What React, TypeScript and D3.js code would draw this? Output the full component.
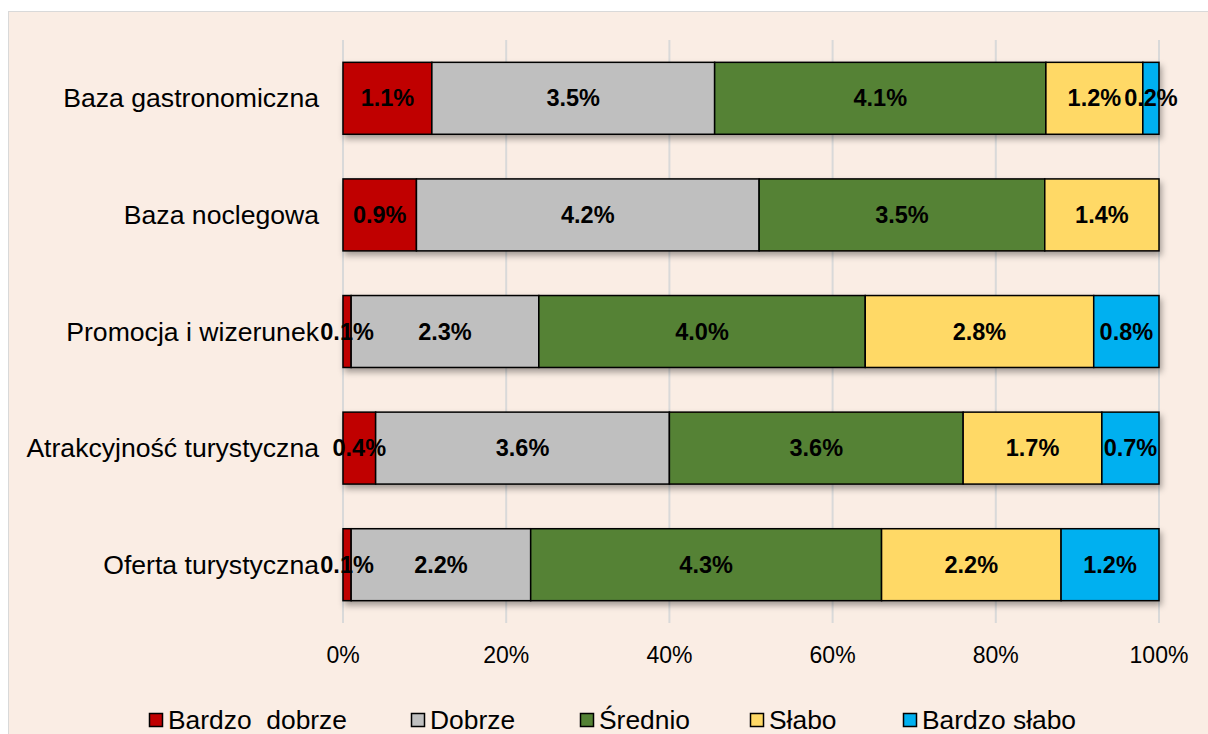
import React from "react";
import * as d3 from "d3";

// -- DATA --
const categories = [
  "Baza gastronomiczna",
  "Baza noclegowa",
  "Promocja i wizerunek",
  "Atrakcyjność turystyczna",
  "Oferta turystyczna",
];
const seriesNames = ["Bardzo  dobrze", "Dobrze", "Średnio", "Słabo", "Bardzo słabo"];
const bardzoDobrze = [1.1, 0.9, 0.1, 0.4, 0.1];
const dobrze = [3.5, 4.2, 2.3, 3.6, 2.2];
const srednio = [4.1, 3.5, 4.0, 3.6, 4.3];
const slabo = [1.2, 1.4, 2.8, 1.7, 2.2];
const bardzoSlabo = [0.2, 0, 0.8, 0.7, 1.2];
const xTicks = [0, 0.2, 0.4, 0.6, 0.8, 1];

const colors = ["#C00000", "#BFBFBF", "#548235", "#FFD966", "#00B0F0"];
const legendX = [149, 411, 580, 750, 903];

const App = () => {
  const svgRef = React.useRef<SVGSVGElement | null>(null);
  const W = 1208;
  const H = 734;

  React.useEffect(() => {
    const svg = d3.select(svgRef.current);
    svg.selectAll("*").remove();

    const font = "'Liberation Sans', Arial, sans-serif";
    const allSeries = [bardzoDobrze, dobrze, srednio, slabo, bardzoSlabo];
    const rows = categories.map((c, i) => {
      const r: any = { cat: c };
      seriesNames.forEach((s, j) => (r[s] = allSeries[j][i]));
      return r;
    });
    const stacked = d3
      .stack()
      .keys(seriesNames)
      .offset(d3.stackOffsetExpand)(rows);

    // drop shadow for the bars
    const defs = svg.append("defs");
    defs
      .append("filter")
      .attr("id", "shadow")
      .attr("x", "-5%")
      .attr("y", "-20%")
      .attr("width", "120%")
      .attr("height", "160%")
      .append("feDropShadow")
      .attr("dx", 2)
      .attr("dy", 4)
      .attr("stdDeviation", 3)
      .attr("flood-color", "#000")
      .attr("flood-opacity", 0.35);

    // background + frame
    svg.append("rect").attr("width", W).attr("height", H).attr("fill", "#fff");
    svg
      .append("rect")
      .attr("x", 8.5)
      .attr("y", 11.5)
      .attr("width", W)
      .attr("height", H)
      .attr("fill", "#FAEDE4")
      .attr("stroke", "#D9D9D9")
      .attr("stroke-width", 1);

    // Scales
    const x = d3.scaleLinear().domain([0, 1]).range([343, 1159]);
    const y = d3
      .scaleBand()
      .domain(categories)
      .range([40, 623])
      .paddingInner(0.383)
      .paddingOuter(0.1915);

    // grid
    svg
      .append("g")
      .selectAll("line")
      .data(xTicks)
      .enter()
      .append("line")
      .attr("x1", (d) => x(d))
      .attr("x2", (d) => x(d))
      .attr("y1", 40)
      .attr("y2", 623)
      .attr("stroke", "#D9D9D9")
      .attr("stroke-width", 2);

    // tick labels
    svg
      .append("g")
      .selectAll("text")
      .data(xTicks)
      .enter()
      .append("text")
      .attr("x", (d) => x(d))
      .attr("y", 663)
      .attr("text-anchor", "middle")
      .style("font-family", font)
      .style("font-size", "23px")
      .attr("fill", "#000")
      .text((d) => d3.format(".0%")(d));

    // bars
    const barG = svg.append("g").attr("filter", "url(#shadow)");
    stacked.forEach((layer, j) => {
      barG
        .selectAll(`rect.s${j}`)
        .data(layer.filter((d) => d[1] - d[0] > 0))
        .enter()
        .append("rect")
        .attr("class", `s${j}`)
        .attr("x", (d) => x(d[0]))
        .attr("y", (d) => y((d.data as any).cat)!)
        .attr("width", (d) => x(d[1]) - x(d[0]))
        .attr("height", y.bandwidth())
        .attr("fill", colors[j])
        .attr("stroke", "#000")
        .attr("stroke-width", 1.5);
    });

    // data labels
    stacked.forEach((layer, j) => {
      svg
        .append("g")
        .selectAll("text")
        .data(layer.filter((d) => d[1] - d[0] > 0))
        .enter()
        .append("text")
        .attr("x", (d) => (x(d[0]) + x(d[1])) / 2)
        .attr("y", (d) => y((d.data as any).cat)! + y.bandwidth() / 2 + 8)
        .attr("text-anchor", "middle")
        .style("font-family", font)
        .style("font-size", "23.5px")
        .style("font-weight", "bold")
        .attr("fill", "#000")
        .text((d) => (d.data as any)[layer.key].toFixed(1) + "%");
    });

    // category labels
    svg
      .append("g")
      .selectAll("text")
      .data(categories)
      .enter()
      .append("text")
      .attr("x", 319)
      .attr("y", (d) => y(d)! + y.bandwidth() / 2 + 9)
      .attr("text-anchor", "end")
      .style("font-family", font)
      .style("font-size", "26.6px")
      .attr("fill", "#000")
      .text((d) => d);

    // legend
    const leg = svg
      .append("g")
      .selectAll("g")
      .data(seriesNames)
      .enter()
      .append("g")
      .attr("transform", (d, i) => `translate(${legendX[i]}, 0)`);
    leg
      .append("rect")
      .attr("x", 0.5)
      .attr("y", 713.5)
      .attr("width", 13)
      .attr("height", 13)
      .attr("fill", (d, i) => colors[i])
      .attr("stroke", "#000")
      .attr("stroke-width", 1.5);
    leg
      .append("text")
      .attr("x", 19)
      .attr("y", 729)
      .style("font-family", font)
      .style("font-size", "26.4px")
      .style("white-space", "pre")
      .attr("fill", "#000")
      .text((d) => d);
  }, []);

  return (
    <svg
      ref={svgRef}
      width={W}
      height={H}
      style={{ position: "fixed", left: 0, top: 0, display: "block" }}
    />
  );
};

export default App;
